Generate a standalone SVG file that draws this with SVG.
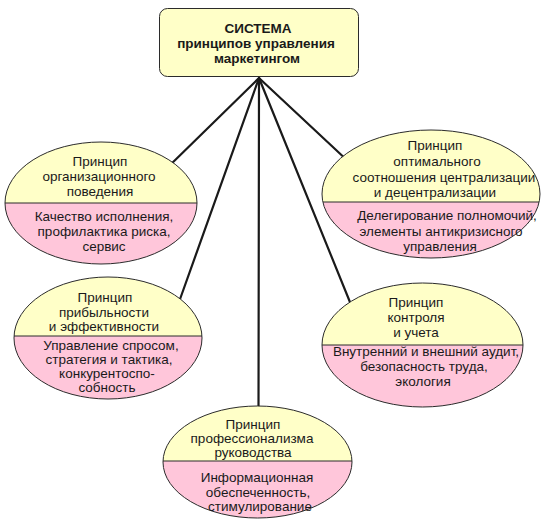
<svg xmlns="http://www.w3.org/2000/svg" width="542" height="519" viewBox="0 0 542 519">
  <style>
    .top { fill: #ffffc8; }
    .bot { fill: #ffc6da; }
    .edge { fill: none; stroke: #2b2b2b; stroke-width: 1; }
    .div { stroke: #2b2b2b; stroke-width: 1; }
    .conn { stroke: #1a1a1a; stroke-width: 2.2; fill: none; stroke-linecap: round; }
    text { font-family: "Liberation Sans", Arial, sans-serif; font-size: 13.5px; fill: #1a1a1a; text-anchor: middle; }
    .title { font-weight: bold; }
  </style>
  <defs>
    <clipPath id="c1"><ellipse cx="101" cy="203" rx="96" ry="61"/></clipPath>
    <clipPath id="c2"><ellipse cx="431" cy="194" rx="109" ry="64"/></clipPath>
    <clipPath id="c3"><ellipse cx="108" cy="338" rx="94" ry="61"/></clipPath>
    <clipPath id="c4"><ellipse cx="422.5" cy="345" rx="100.5" ry="62"/></clipPath>
    <clipPath id="c5"><ellipse cx="257.5" cy="462" rx="94.5" ry="56"/></clipPath>
  </defs>

  <!-- connectors from the system box to each principle -->
  <g id="connectors">
    <line class="conn" x1="259" y1="78" x2="165" y2="170"/>
    <line class="conn" x1="259" y1="78" x2="179" y2="302"/>
    <line class="conn" x1="259" y1="78" x2="258.5" y2="415"/>
    <line class="conn" x1="259" y1="78" x2="354" y2="312"/>
    <line class="conn" x1="259" y1="78" x2="350" y2="163"/>
  </g>

  <g id="system">
    <rect x="159.5" y="8.5" width="199" height="68" rx="8" class="top" stroke="#2b2b2b" stroke-width="1"/>
    <text class="title" x="258" y="32.5">СИСТЕМА</text>
    <text class="title" x="256" y="48">принципов управления</text>
    <text class="title" x="257" y="63">маркетингом</text>
  </g>

  <g id="org-behaviour">
    <g clip-path="url(#c1)">
      <rect x="0" y="130" width="210" height="73" class="top"/>
      <rect x="0" y="203" width="210" height="70" class="bot"/>
    </g>
    <line class="div" x1="5" y1="203" x2="197" y2="203"/>
    <ellipse class="edge" cx="101" cy="203" rx="96" ry="61"/>
    <text x="100" y="166">Принцип</text>
    <text x="99" y="181">организационного</text>
    <text x="100" y="196">поведения</text>
    <text x="104" y="221">Качество исполнения,</text>
    <text x="104" y="236">профилактика риска,</text>
    <text x="104" y="251">сервис</text>
  </g>

  <g id="centralisation">
    <g clip-path="url(#c2)">
      <rect x="320" y="120" width="225" height="82" class="top"/>
      <rect x="320" y="202" width="225" height="70" class="bot"/>
    </g>
    <line class="div" x1="323" y1="202" x2="539" y2="202"/>
    <ellipse class="edge" cx="431" cy="194" rx="109" ry="64"/>
    <text x="435" y="150">Принцип</text>
    <text x="437" y="166">оптимального</text>
    <text x="444" y="182">соотношения централизации</text>
    <text x="435" y="197">и децентрализации</text>
    <text x="447" y="220">Делегирование полномочий,</text>
    <text x="441" y="236">элементы антикризисного</text>
    <text x="440" y="251">управления</text>
  </g>

  <g id="profitability">
    <g clip-path="url(#c3)">
      <rect x="10" y="270" width="200" height="66" class="top"/>
      <rect x="10" y="336" width="200" height="70" class="bot"/>
    </g>
    <line class="div" x1="14" y1="336" x2="202" y2="336"/>
    <ellipse class="edge" cx="108" cy="338" rx="94" ry="61"/>
    <text x="105" y="302">Принцип</text>
    <text x="104" y="317">прибыльности</text>
    <text x="104" y="331">и эффективности</text>
    <text x="111" y="350">Управление спросом,</text>
    <text x="109" y="364">стратегия и тактика,</text>
    <text x="107" y="378">конкурентоспо-</text>
    <text x="107" y="392">собность</text>
  </g>

  <g id="control">
    <g clip-path="url(#c4)">
      <rect x="318" y="278" width="210" height="67" class="top"/>
      <rect x="318" y="345" width="210" height="70" class="bot"/>
    </g>
    <line class="div" x1="322" y1="345" x2="523" y2="345"/>
    <ellipse class="edge" cx="422.5" cy="345" rx="100.5" ry="62"/>
    <text x="416" y="307">Принцип</text>
    <text x="416" y="322">контроля</text>
    <text x="416" y="337">и учета</text>
    <text x="426" y="356">Внутренний и внешний аудит,</text>
    <text x="424" y="371">безопасность труда,</text>
    <text x="423" y="386">экология</text>
  </g>

  <g id="professionalism">
    <g clip-path="url(#c5)">
      <rect x="160" y="400" width="200" height="61" class="top"/>
      <rect x="160" y="461" width="200" height="60" class="bot"/>
    </g>
    <line class="div" x1="163" y1="461" x2="352" y2="461"/>
    <ellipse class="edge" cx="257.5" cy="462" rx="94.5" ry="56"/>
    <text x="253" y="429">Принцип</text>
    <text x="252" y="443">профессионализма</text>
    <text x="253" y="457">руководства</text>
    <text x="257" y="482">Информационная</text>
    <text x="258" y="497">обеспеченность,</text>
    <text x="260" y="511">стимулирование</text>
  </g>
</svg>
